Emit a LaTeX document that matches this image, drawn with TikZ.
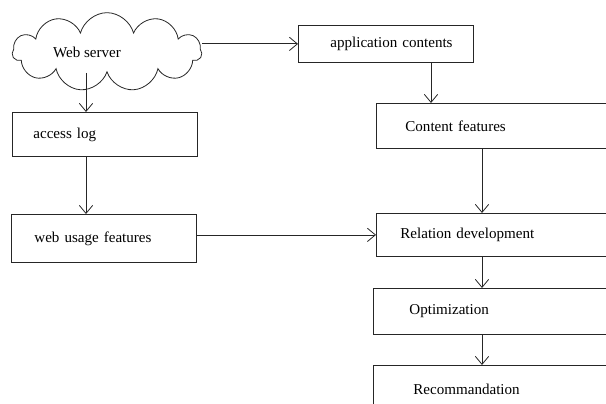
\documentclass[tikz,border=0pt]{standalone}
\usepackage{fontspec}
\setmainfont{Liberation Serif}
\usetikzlibrary{shapes.symbols,arrows.meta}

\tikzset{
  box/.style={draw, anchor=north west, inner xsep=0pt, align=left},
  indent/.style={execute at begin node={\noindent\hspace*{#1}}},
}

\begin{document}
\begin{tikzpicture}[x=0.75pt, y=-0.75pt, line width=0.6pt, draw=black!85,
    font=\fontsize{11.3}{13.5}\selectfont,
    >={Straight Barb[length=6pt,width=10pt]}]

    \useasboundingbox (0,0) rectangle (606,403);
    \clip (0,0) rectangle (606,403);

    \coordinate (lcol) at (86, 0);
    \coordinate (acol) at (431, 0);
    \coordinate (rcol) at (482, 0);

    \node[cloud, draw, cloud puffs=11, cloud ignores aspect, minimum width=142pt, minimum height=59pt, inner sep=0pt] (web) at (107, 52) {Web server\hspace*{30pt}\mbox{}};
    \node[box, text width=131.25pt, minimum height=27.75pt, indent=24pt] (app) at (298, 25) {application contents};
    \node[box, text width=138.75pt, minimum height=33pt, indent=15.75pt] (log) at (12, 112) {access log};
    \node[box, text width=138.75pt, minimum height=36pt, indent=17.25pt] (usage) at (11, 214) {web usage features};
    \node[box, text width=205.5pt, minimum height=33.75pt, indent=21.75pt] (content) at (376, 103) {Content features};
    \node[box, text width=205.5pt, minimum height=32.25pt, indent=18pt] (relation) at (376, 213) {Relation development};
    \node[box, text width=207.75pt, minimum height=34.5pt, indent=27pt] (optim) at (373, 288) {Optimization};
    \node[box, text width=207.75pt, minimum height=36pt, indent=30pt] (recomm) at (373, 365) {Recommandation};

    \draw [->] (web.east |- app.west) -- (app.west);
    \draw [->] (web.south -| lcol) -- (log.north -| lcol);
    \draw [->] (log.south -| lcol) -- (usage.north -| lcol);
    \draw [->] (app.south -| acol) -- (content.north -| acol);
    \draw [->] (content.south -| rcol) -- (relation.north -| rcol);
    \draw [->] (usage.east |- relation.west) -- (relation.west);
    \draw [->] (relation.south -| rcol) -- (optim.north -| rcol);
    \draw [->] (optim.south -| rcol) -- (recomm.north -| rcol);

\end{tikzpicture}
\end{document}
